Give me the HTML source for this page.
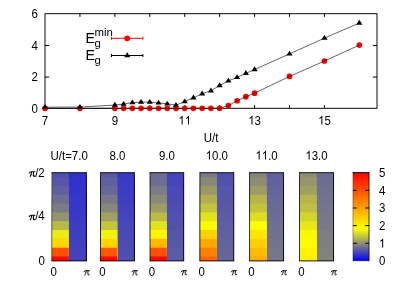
<!DOCTYPE html>
<html><head><meta charset="utf-8"><title>Eg vs U/t</title>
<style>
html,body{margin:0;padding:0;background:#fff;}
body{width:415px;height:291px;overflow:hidden;font-family:"Liberation Sans",sans-serif;}
svg{display:block;will-change:transform;}
</style>
</head><body>
<svg width="415" height="291" viewBox="0 0 415 291">
<rect width="415" height="291" fill="#fff"/>
<g font-family="Liberation Sans, sans-serif" font-size="12.2" fill="#000">
<rect x="45.0" y="13.7" width="332.0" height="94.60" fill="none" stroke="#000" stroke-width="0.95"/>
<path d="M79.93 108.3v-3.2M79.93 13.7v3.2M114.86 108.3v-3.2M114.86 13.7v3.2M149.79 108.3v-3.2M149.79 13.7v3.2M184.72 108.3v-3.2M184.72 13.7v3.2M219.65 108.3v-3.2M219.65 13.7v3.2M254.58 108.3v-3.2M254.58 13.7v3.2M289.51 108.3v-3.2M289.51 13.7v3.2M324.44 108.3v-3.2M324.44 13.7v3.2M45.0 77.07h4.1M377.0 77.07h-4.1M45.0 45.53h4.1M377.0 45.53h-4.1" stroke="#000" stroke-width="1" fill="none"/>
<text transform="translate(37.90 112.60) scale(0.94 1)" text-anchor="end" font-size="12.2">0</text>
<text transform="translate(37.90 80.77) scale(0.94 1)" text-anchor="end" font-size="12.2">2</text>
<text transform="translate(37.90 49.83) scale(0.94 1)" text-anchor="end" font-size="12.2">4</text>
<text transform="translate(37.90 17.70) scale(0.94 1)" text-anchor="end" font-size="12.2">6</text>
<text transform="translate(45.00 124.60) scale(0.94 1)" text-anchor="middle" font-size="12.2">7</text>
<text transform="translate(114.86 124.60) scale(0.94 1)" text-anchor="middle" font-size="12.2">9</text>
<path transform="translate(178.34 124.60) scale(0.005600 -0.005957)" d="M763 0L583 0L583 1147Q518 1085 412.5 1023Q307 961 223 930L223 1104Q374 1175 487 1276Q600 1377 647 1472L763 1472Z" fill="#000"/>
<path transform="translate(184.72 124.60) scale(0.005600 -0.005957)" d="M763 0L583 0L583 1147Q518 1085 412.5 1023Q307 961 223 930L223 1104Q374 1175 487 1276Q600 1377 647 1472L763 1472Z" fill="#000"/>
<path transform="translate(248.20 124.60) scale(0.005600 -0.005957)" d="M763 0L583 0L583 1147Q518 1085 412.5 1023Q307 961 223 930L223 1104Q374 1175 487 1276Q600 1377 647 1472L763 1472Z" fill="#000"/>
<text transform="translate(254.58 124.60) scale(0.94 1)" font-size="12.2">3</text>
<path transform="translate(318.06 124.60) scale(0.005600 -0.005957)" d="M763 0L583 0L583 1147Q518 1085 412.5 1023Q307 961 223 930L223 1104Q374 1175 487 1276Q600 1377 647 1472L763 1472Z" fill="#000"/>
<text transform="translate(324.44 124.60) scale(0.94 1)" font-size="12.2">5</text>
<text transform="translate(211.00 141.80) scale(0.94 1)" text-anchor="middle" font-size="12.2">U/t</text>
<circle cx="45.00" cy="108.30" r="2.85" fill="#f00"/>
<circle cx="79.93" cy="108.30" r="2.85" fill="#f00"/>
<circle cx="114.86" cy="108.30" r="2.85" fill="#f00"/>
<circle cx="123.59" cy="108.30" r="2.85" fill="#f00"/>
<circle cx="132.32" cy="108.30" r="2.85" fill="#f00"/>
<circle cx="141.06" cy="108.30" r="2.85" fill="#f00"/>
<circle cx="149.79" cy="108.30" r="2.85" fill="#f00"/>
<circle cx="158.52" cy="108.30" r="2.85" fill="#f00"/>
<circle cx="167.25" cy="108.30" r="2.85" fill="#f00"/>
<circle cx="175.99" cy="108.30" r="2.85" fill="#f00"/>
<circle cx="184.72" cy="108.30" r="2.85" fill="#f00"/>
<circle cx="193.45" cy="108.30" r="2.85" fill="#f00"/>
<circle cx="202.19" cy="108.30" r="2.85" fill="#f00"/>
<circle cx="210.92" cy="108.30" r="2.85" fill="#f00"/>
<circle cx="219.65" cy="108.30" r="2.85" fill="#f00"/>
<circle cx="228.38" cy="105.62" r="2.85" fill="#f00"/>
<circle cx="237.12" cy="100.73" r="2.85" fill="#f00"/>
<circle cx="245.85" cy="96.71" r="2.85" fill="#f00"/>
<circle cx="254.58" cy="93.16" r="2.85" fill="#f00"/>
<circle cx="289.51" cy="76.45" r="2.85" fill="#f00"/>
<circle cx="324.44" cy="61.00" r="2.85" fill="#f00"/>
<circle cx="359.37" cy="45.08" r="2.85" fill="#f00"/>
<polyline fill="none" stroke="#000" stroke-width="0.6" points="45.00,107.16 79.93,107.09 114.86,105.04 123.59,104.09 132.32,102.59 141.06,102.12 149.79,102.12 158.52,102.91 167.25,103.85 175.99,105.12 184.72,101.60 193.45,97.74 202.19,93.72 210.92,90.80 219.65,85.44 228.38,80.87 237.12,77.40 245.85,73.30 254.58,69.51 289.51,53.90 324.44,38.14 359.37,23.00"/>
<polyline fill="none" stroke="#000" stroke-width="0.6" points="45.00,108.30 79.93,108.30 114.86,108.30 123.59,108.30 132.32,108.30 141.06,108.30 149.79,108.30 158.52,108.30 167.25,108.30 175.99,108.30 184.72,108.30 193.45,108.30 202.19,108.30 210.92,108.30 219.65,108.30 228.38,105.62 237.12,100.73 245.85,96.71 254.58,93.16 289.51,76.45 324.44,61.00 359.37,45.08"/>
<path d="M45.00 103.96L48.10 108.86L41.90 108.86Z" fill="#000"/>
<path d="M79.93 103.89L83.03 108.79L76.83 108.79Z" fill="#000"/>
<path d="M114.86 101.84L117.96 106.74L111.76 106.74Z" fill="#000"/>
<path d="M123.59 100.89L126.69 105.79L120.49 105.79Z" fill="#000"/>
<path d="M132.32 99.39L135.42 104.29L129.22 104.29Z" fill="#000"/>
<path d="M141.06 98.92L144.16 103.82L137.96 103.82Z" fill="#000"/>
<path d="M149.79 98.92L152.89 103.82L146.69 103.82Z" fill="#000"/>
<path d="M158.52 99.71L161.62 104.61L155.42 104.61Z" fill="#000"/>
<path d="M167.25 100.65L170.35 105.55L164.16 105.55Z" fill="#000"/>
<path d="M175.99 101.92L179.09 106.82L172.89 106.82Z" fill="#000"/>
<path d="M184.72 98.40L187.82 103.30L181.62 103.30Z" fill="#000"/>
<path d="M193.45 94.54L196.55 99.44L190.35 99.44Z" fill="#000"/>
<path d="M202.19 90.52L205.28 95.42L199.09 95.42Z" fill="#000"/>
<path d="M210.92 87.60L214.02 92.50L207.82 92.50Z" fill="#000"/>
<path d="M219.65 82.24L222.75 87.14L216.55 87.14Z" fill="#000"/>
<path d="M228.38 77.67L231.48 82.57L225.28 82.57Z" fill="#000"/>
<path d="M237.12 74.20L240.22 79.10L234.02 79.10Z" fill="#000"/>
<path d="M245.85 70.10L248.95 75.00L242.75 75.00Z" fill="#000"/>
<path d="M254.58 66.31L257.68 71.21L251.48 71.21Z" fill="#000"/>
<path d="M289.51 50.70L292.61 55.60L286.41 55.60Z" fill="#000"/>
<path d="M324.44 34.94L327.54 39.84L321.34 39.84Z" fill="#000"/>
<path d="M359.37 19.80L362.47 24.70L356.27 24.70Z" fill="#000"/>
<text transform="translate(85.60 43.00) scale(0.95 1)" text-anchor="start" font-size="15">E</text>
<text transform="translate(94.60 36.00) scale(1 1)" text-anchor="start" font-size="11.4">min</text>
<text transform="translate(94.50 47.00) scale(1 1)" text-anchor="start" font-size="11.4">g</text>
<path d="M111.5 38.3h31.4M111.5 36.8v3M142.9 36.8v3" stroke="#f00" stroke-width="1" fill="none"/>
<circle cx="127.2" cy="38.3" r="2.85" fill="#f00"/>
<text transform="translate(85.60 60.20) scale(0.95 1)" text-anchor="start" font-size="15">E</text>
<text transform="translate(94.50 64.20) scale(1 1)" text-anchor="start" font-size="11.4">g</text>
<path d="M111.5 55.5h31.4M111.5 54v3M142.9 54v3" stroke="#000" stroke-width="1" fill="none"/>
<path d="M127.20 52.30L130.30 57.20L124.10 57.20Z" fill="#000"/>
<rect x="67.80" y="172.70" width="18.60" height="88.20" fill="#3030cf"/>
<rect x="67.80" y="177.11" width="18.60" height="83.79" fill="#3232cd"/>
<rect x="67.80" y="185.93" width="18.60" height="74.97" fill="#3434cb"/>
<rect x="67.80" y="194.75" width="18.60" height="66.15" fill="#3636c9"/>
<rect x="67.80" y="203.57" width="18.60" height="57.33" fill="#3838c8"/>
<rect x="67.80" y="212.39" width="18.60" height="48.51" fill="#3a3ac6"/>
<rect x="67.80" y="221.21" width="18.60" height="39.69" fill="#3c3cc4"/>
<rect x="67.80" y="230.03" width="18.60" height="30.87" fill="#3e3ec2"/>
<rect x="67.80" y="238.85" width="18.60" height="22.05" fill="#4040c0"/>
<rect x="67.80" y="247.67" width="18.60" height="13.23" fill="#4242be"/>
<rect x="67.80" y="256.49" width="18.60" height="4.41" fill="#4444bc"/>
<rect x="51.90" y="172.70" width="16.90" height="88.20" fill="#5050b0"/>
<rect x="51.90" y="177.11" width="16.90" height="83.79" fill="#5656aa"/>
<rect x="51.90" y="185.93" width="16.90" height="74.97" fill="#6060a0"/>
<rect x="51.90" y="194.75" width="16.90" height="66.15" fill="#6e6e92"/>
<rect x="51.90" y="203.57" width="16.90" height="57.33" fill="#7c7c84"/>
<rect x="51.90" y="212.39" width="16.90" height="48.51" fill="#93936d"/>
<rect x="51.90" y="221.21" width="16.90" height="39.69" fill="#b9b946"/>
<rect x="51.90" y="230.03" width="16.90" height="30.87" fill="#ecec13"/>
<rect x="51.90" y="238.85" width="16.90" height="22.05" fill="#ffd800"/>
<rect x="51.90" y="247.67" width="16.90" height="13.23" fill="#ff5000"/>
<rect x="51.90" y="256.49" width="16.90" height="4.41" fill="#ff0700"/>
<path d="M51.90 260.90V172.70" fill="none" stroke="#000" stroke-opacity="0.45" stroke-width="0.9"/>
<path d="M51.45 172.70H86.85M86.40 172.70V260.90M86.85 260.90H51.45" fill="none" stroke="#000" stroke-width="0.9"/>
<text transform="translate(69.15 159.60) scale(0.94 1)" text-anchor="middle" font-size="12.2">U/t=7.0</text>
<text transform="translate(50.60 276.00) scale(0.94 1)" text-anchor="start" font-size="12.2">0</text>
<path transform="translate(83.70 275.40) scale(0.96)" d="M0.35 -3.7Q0.8 -4.95 2.0 -4.95L5.9 -4.95M2.65 -4.7Q2.35 -1.8 1.25 -0.35M4.5 -4.7L4.35 -1.6Q4.3 -0.4 5.1 -0.4Q5.6 -0.45 5.8 -1.0" fill="none" stroke="#000" stroke-width="0.95" stroke-linecap="round" stroke-linejoin="round"/>
<rect x="116.30" y="172.70" width="18.10" height="88.20" fill="#3838c7"/>
<rect x="116.30" y="177.11" width="18.10" height="83.79" fill="#3b3bc5"/>
<rect x="116.30" y="185.93" width="18.10" height="74.97" fill="#3d3dc2"/>
<rect x="116.30" y="194.75" width="18.10" height="66.15" fill="#3f3fc0"/>
<rect x="116.30" y="203.57" width="18.10" height="57.33" fill="#4242be"/>
<rect x="116.30" y="212.39" width="18.10" height="48.51" fill="#4444bb"/>
<rect x="116.30" y="221.21" width="18.10" height="39.69" fill="#4747b9"/>
<rect x="116.30" y="230.03" width="18.10" height="30.87" fill="#4949b7"/>
<rect x="116.30" y="238.85" width="18.10" height="22.05" fill="#4b4bb4"/>
<rect x="116.30" y="247.67" width="18.10" height="13.23" fill="#4e4eb2"/>
<rect x="116.30" y="256.49" width="18.10" height="4.41" fill="#5050b0"/>
<rect x="100.50" y="172.70" width="16.80" height="88.20" fill="#5858a7"/>
<rect x="100.50" y="177.11" width="16.80" height="83.79" fill="#6060a0"/>
<rect x="100.50" y="185.93" width="16.80" height="74.97" fill="#686898"/>
<rect x="100.50" y="194.75" width="16.80" height="66.15" fill="#787888"/>
<rect x="100.50" y="203.57" width="16.80" height="57.33" fill="#888878"/>
<rect x="100.50" y="212.39" width="16.80" height="48.51" fill="#a0a060"/>
<rect x="100.50" y="221.21" width="16.80" height="39.69" fill="#c3c33c"/>
<rect x="100.50" y="230.03" width="16.80" height="30.87" fill="#f2f20d"/>
<rect x="100.50" y="238.85" width="16.80" height="22.05" fill="#ffd400"/>
<rect x="100.50" y="247.67" width="16.80" height="13.23" fill="#ff5800"/>
<rect x="100.50" y="256.49" width="16.80" height="4.41" fill="#ff0700"/>
<path d="M100.50 260.90V172.70" fill="none" stroke="#000" stroke-opacity="0.85" stroke-width="0.9"/>
<path d="M100.05 172.70H134.85M134.40 172.70V260.90M134.85 260.90H100.05" fill="none" stroke="#000" stroke-width="0.9"/>
<text transform="translate(117.45 159.60) scale(0.94 1)" text-anchor="middle" font-size="12.2">8.0</text>
<text transform="translate(99.20 276.00) scale(0.94 1)" text-anchor="start" font-size="12.2">0</text>
<path transform="translate(131.70 275.40) scale(0.96)" d="M0.35 -3.7Q0.8 -4.95 2.0 -4.95L5.9 -4.95M2.65 -4.7Q2.35 -1.8 1.25 -0.35M4.5 -4.7L4.35 -1.6Q4.3 -0.4 5.1 -0.4Q5.6 -0.45 5.8 -1.0" fill="none" stroke="#000" stroke-width="0.95" stroke-linecap="round" stroke-linejoin="round"/>
<rect x="165.90" y="172.70" width="17.80" height="88.20" fill="#4444bc"/>
<rect x="165.90" y="177.11" width="17.80" height="83.79" fill="#4646b9"/>
<rect x="165.90" y="185.93" width="17.80" height="74.97" fill="#4949b7"/>
<rect x="165.90" y="194.75" width="17.80" height="66.15" fill="#4b4bb4"/>
<rect x="165.90" y="203.57" width="17.80" height="57.33" fill="#4e4eb2"/>
<rect x="165.90" y="212.39" width="17.80" height="48.51" fill="#5050b0"/>
<rect x="165.90" y="221.21" width="17.80" height="39.69" fill="#5252ad"/>
<rect x="165.90" y="230.03" width="17.80" height="30.87" fill="#5555ab"/>
<rect x="165.90" y="238.85" width="17.80" height="22.05" fill="#5757a8"/>
<rect x="165.90" y="247.67" width="17.80" height="13.23" fill="#5a5aa6"/>
<rect x="165.90" y="256.49" width="17.80" height="4.41" fill="#5c5ca4"/>
<rect x="150.00" y="172.70" width="16.90" height="88.20" fill="#6c6c94"/>
<rect x="150.00" y="177.11" width="16.90" height="83.79" fill="#6e6e92"/>
<rect x="150.00" y="185.93" width="16.90" height="74.97" fill="#7c7c84"/>
<rect x="150.00" y="194.75" width="16.90" height="66.15" fill="#8a8a76"/>
<rect x="150.00" y="203.57" width="16.90" height="57.33" fill="#9c9c64"/>
<rect x="150.00" y="212.39" width="16.90" height="48.51" fill="#bcbc44"/>
<rect x="150.00" y="221.21" width="16.90" height="39.69" fill="#e3e31c"/>
<rect x="150.00" y="230.03" width="16.90" height="30.87" fill="#fff600"/>
<rect x="150.00" y="238.85" width="16.90" height="22.05" fill="#ffb800"/>
<rect x="150.00" y="247.67" width="16.90" height="13.23" fill="#ff5100"/>
<rect x="150.00" y="256.49" width="16.90" height="4.41" fill="#ff0700"/>
<path d="M150.00 260.90V172.70" fill="none" stroke="#000" stroke-opacity="0.85" stroke-width="0.9"/>
<path d="M149.55 172.70H184.15M183.70 172.70V260.90M184.15 260.90H149.55" fill="none" stroke="#000" stroke-width="0.9"/>
<text transform="translate(166.85 159.60) scale(0.94 1)" text-anchor="middle" font-size="12.2">9.0</text>
<text transform="translate(148.70 276.00) scale(0.94 1)" text-anchor="start" font-size="12.2">0</text>
<path transform="translate(181.00 275.40) scale(0.96)" d="M0.35 -3.7Q0.8 -4.95 2.0 -4.95L5.9 -4.95M2.65 -4.7Q2.35 -1.8 1.25 -0.35M4.5 -4.7L4.35 -1.6Q4.3 -0.4 5.1 -0.4Q5.6 -0.45 5.8 -1.0" fill="none" stroke="#000" stroke-width="0.95" stroke-linecap="round" stroke-linejoin="round"/>
<rect x="215.90" y="172.70" width="17.85" height="88.20" fill="#5050b0"/>
<rect x="215.90" y="177.11" width="17.85" height="83.79" fill="#5252ad"/>
<rect x="215.90" y="185.93" width="17.85" height="74.97" fill="#5555ab"/>
<rect x="215.90" y="194.75" width="17.85" height="66.15" fill="#5757a9"/>
<rect x="215.90" y="203.57" width="17.85" height="57.33" fill="#5959a6"/>
<rect x="215.90" y="212.39" width="17.85" height="48.51" fill="#5c5ca4"/>
<rect x="215.90" y="221.21" width="17.85" height="39.69" fill="#5e5ea2"/>
<rect x="215.90" y="230.03" width="17.85" height="30.87" fill="#61619f"/>
<rect x="215.90" y="238.85" width="17.85" height="22.05" fill="#63639d"/>
<rect x="215.90" y="247.67" width="17.85" height="13.23" fill="#65659a"/>
<rect x="215.90" y="256.49" width="17.85" height="4.41" fill="#686898"/>
<rect x="199.90" y="172.70" width="17.00" height="88.20" fill="#787888"/>
<rect x="199.90" y="177.11" width="17.00" height="83.79" fill="#888878"/>
<rect x="199.90" y="185.93" width="17.00" height="74.97" fill="#999966"/>
<rect x="199.90" y="194.75" width="17.00" height="66.15" fill="#b0b04f"/>
<rect x="199.90" y="203.57" width="17.00" height="57.33" fill="#c3c33c"/>
<rect x="199.90" y="212.39" width="17.00" height="48.51" fill="#e3e31c"/>
<rect x="199.90" y="221.21" width="17.00" height="39.69" fill="#fffb00"/>
<rect x="199.90" y="230.03" width="17.00" height="30.87" fill="#ffd000"/>
<rect x="199.90" y="238.85" width="17.00" height="22.05" fill="#ffaa00"/>
<rect x="199.90" y="247.67" width="17.00" height="13.23" fill="#ff8000"/>
<rect x="199.90" y="256.49" width="17.00" height="4.41" fill="#ff6600"/>
<path d="M199.90 260.90V172.70" fill="none" stroke="#000" stroke-opacity="0.85" stroke-width="0.9"/>
<path d="M199.45 172.70H234.20M233.75 172.70V260.90M234.20 260.90H199.45" fill="none" stroke="#000" stroke-width="0.9"/>
<path transform="translate(205.66 159.60) scale(0.005600 -0.005957)" d="M763 0L583 0L583 1147Q518 1085 412.5 1023Q307 961 223 930L223 1104Q374 1175 487 1276Q600 1377 647 1472L763 1472Z" fill="#000"/>
<text transform="translate(212.04 159.60) scale(0.94 1)" font-size="12.2">0.0</text>
<text transform="translate(198.60 276.00) scale(0.94 1)" text-anchor="start" font-size="12.2">0</text>
<path transform="translate(231.05 275.40) scale(0.96)" d="M0.35 -3.7Q0.8 -4.95 2.0 -4.95L5.9 -4.95M2.65 -4.7Q2.35 -1.8 1.25 -0.35M4.5 -4.7L4.35 -1.6Q4.3 -0.4 5.1 -0.4Q5.6 -0.45 5.8 -1.0" fill="none" stroke="#000" stroke-width="0.95" stroke-linecap="round" stroke-linejoin="round"/>
<rect x="265.70" y="172.70" width="17.85" height="88.20" fill="#6060a0"/>
<rect x="265.70" y="177.11" width="17.85" height="83.79" fill="#62629d"/>
<rect x="265.70" y="185.93" width="17.85" height="74.97" fill="#65659b"/>
<rect x="265.70" y="194.75" width="17.85" height="66.15" fill="#676799"/>
<rect x="265.70" y="203.57" width="17.85" height="57.33" fill="#6a6a96"/>
<rect x="265.70" y="212.39" width="17.85" height="48.51" fill="#6c6c94"/>
<rect x="265.70" y="221.21" width="17.85" height="39.69" fill="#6f6f91"/>
<rect x="265.70" y="230.03" width="17.85" height="30.87" fill="#71718f"/>
<rect x="265.70" y="238.85" width="17.85" height="22.05" fill="#73738c"/>
<rect x="265.70" y="247.67" width="17.85" height="13.23" fill="#76768a"/>
<rect x="265.70" y="256.49" width="17.85" height="4.41" fill="#787888"/>
<rect x="249.55" y="172.70" width="17.15" height="88.20" fill="#84847c"/>
<rect x="249.55" y="177.11" width="17.15" height="83.79" fill="#8d8d73"/>
<rect x="249.55" y="185.93" width="17.15" height="74.97" fill="#9c9c64"/>
<rect x="249.55" y="194.75" width="17.15" height="66.15" fill="#b5b54a"/>
<rect x="249.55" y="203.57" width="17.15" height="57.33" fill="#c3c33c"/>
<rect x="249.55" y="212.39" width="17.15" height="48.51" fill="#dfdf20"/>
<rect x="249.55" y="221.21" width="17.15" height="39.69" fill="#ffff00"/>
<rect x="249.55" y="230.03" width="17.15" height="30.87" fill="#ffe600"/>
<rect x="249.55" y="238.85" width="17.15" height="22.05" fill="#ffd000"/>
<rect x="249.55" y="247.67" width="17.15" height="13.23" fill="#ffbb00"/>
<rect x="249.55" y="256.49" width="17.15" height="4.41" fill="#ffae00"/>
<path d="M249.55 260.90V172.70" fill="none" stroke="#000" stroke-opacity="0.85" stroke-width="0.9"/>
<path d="M249.10 172.70H284.00M283.55 172.70V260.90M284.00 260.90H249.10" fill="none" stroke="#000" stroke-width="0.9"/>
<path transform="translate(255.39 159.60) scale(0.005600 -0.005957)" d="M763 0L583 0L583 1147Q518 1085 412.5 1023Q307 961 223 930L223 1104Q374 1175 487 1276Q600 1377 647 1472L763 1472Z" fill="#000"/>
<path transform="translate(261.77 159.60) scale(0.005600 -0.005957)" d="M763 0L583 0L583 1147Q518 1085 412.5 1023Q307 961 223 930L223 1104Q374 1175 487 1276Q600 1377 647 1472L763 1472Z" fill="#000"/>
<text transform="translate(268.15 159.60) scale(0.94 1)" font-size="12.2">.0</text>
<text transform="translate(248.25 276.00) scale(0.94 1)" text-anchor="start" font-size="12.2">0</text>
<path transform="translate(280.85 275.40) scale(0.96)" d="M0.35 -3.7Q0.8 -4.95 2.0 -4.95L5.9 -4.95M2.65 -4.7Q2.35 -1.8 1.25 -0.35M4.5 -4.7L4.35 -1.6Q4.3 -0.4 5.1 -0.4Q5.6 -0.45 5.8 -1.0" fill="none" stroke="#000" stroke-width="0.95" stroke-linecap="round" stroke-linejoin="round"/>
<rect x="315.70" y="172.70" width="17.85" height="88.20" fill="#6c6c94"/>
<rect x="315.70" y="177.11" width="17.85" height="83.79" fill="#6e6e92"/>
<rect x="315.70" y="185.93" width="17.85" height="74.97" fill="#70708f"/>
<rect x="315.70" y="194.75" width="17.85" height="66.15" fill="#73738d"/>
<rect x="315.70" y="203.57" width="17.85" height="57.33" fill="#75758b"/>
<rect x="315.70" y="212.39" width="17.85" height="48.51" fill="#787888"/>
<rect x="315.70" y="221.21" width="17.85" height="39.69" fill="#7a7a86"/>
<rect x="315.70" y="230.03" width="17.85" height="30.87" fill="#7d7d83"/>
<rect x="315.70" y="238.85" width="17.85" height="22.05" fill="#7f7f81"/>
<rect x="315.70" y="247.67" width="17.85" height="13.23" fill="#81817f"/>
<rect x="315.70" y="256.49" width="17.85" height="4.41" fill="#84847c"/>
<rect x="299.50" y="172.70" width="17.20" height="88.20" fill="#8d8d73"/>
<rect x="299.50" y="177.11" width="17.20" height="83.79" fill="#96966a"/>
<rect x="299.50" y="185.93" width="17.20" height="74.97" fill="#a0a060"/>
<rect x="299.50" y="194.75" width="17.20" height="66.15" fill="#b5b54a"/>
<rect x="299.50" y="203.57" width="17.20" height="57.33" fill="#c0c040"/>
<rect x="299.50" y="212.39" width="17.20" height="48.51" fill="#d4d42c"/>
<rect x="299.50" y="221.21" width="17.20" height="39.69" fill="#e8e817"/>
<rect x="299.50" y="230.03" width="17.20" height="30.87" fill="#f9f906"/>
<rect x="299.50" y="238.85" width="17.20" height="22.05" fill="#fffb00"/>
<rect x="299.50" y="247.67" width="17.20" height="13.23" fill="#fff200"/>
<rect x="299.50" y="256.49" width="17.20" height="4.41" fill="#ffee00"/>
<path d="M299.50 260.90V172.70" fill="none" stroke="#000" stroke-opacity="0.85" stroke-width="0.9"/>
<path d="M299.05 172.70H334.00M333.55 172.70V260.90M334.00 260.90H299.05" fill="none" stroke="#000" stroke-width="0.9"/>
<path transform="translate(305.36 159.60) scale(0.005600 -0.005957)" d="M763 0L583 0L583 1147Q518 1085 412.5 1023Q307 961 223 930L223 1104Q374 1175 487 1276Q600 1377 647 1472L763 1472Z" fill="#000"/>
<text transform="translate(311.74 159.60) scale(0.94 1)" font-size="12.2">3.0</text>
<text transform="translate(298.20 276.00) scale(0.94 1)" text-anchor="start" font-size="12.2">0</text>
<path transform="translate(330.85 275.40) scale(0.96)" d="M0.35 -3.7Q0.8 -4.95 2.0 -4.95L5.9 -4.95M2.65 -4.7Q2.35 -1.8 1.25 -0.35M4.5 -4.7L4.35 -1.6Q4.3 -0.4 5.1 -0.4Q5.6 -0.45 5.8 -1.0" fill="none" stroke="#000" stroke-width="0.95" stroke-linecap="round" stroke-linejoin="round"/>
<path transform="translate(29.00 176.70) scale(1.0)" d="M0.35 -3.7Q0.8 -4.95 2.0 -4.95L5.9 -4.95M2.65 -4.7Q2.35 -1.8 1.25 -0.35M4.5 -4.7L4.35 -1.6Q4.3 -0.4 5.1 -0.4Q5.6 -0.45 5.8 -1.0" fill="none" stroke="#000" stroke-width="1.1" stroke-linecap="round" stroke-linejoin="round"/>
<text transform="translate(44.70 176.90) scale(0.94 1)" text-anchor="end" font-size="12.2">/2</text>
<path transform="translate(29.00 220.20) scale(1.0)" d="M0.35 -3.7Q0.8 -4.95 2.0 -4.95L5.9 -4.95M2.65 -4.7Q2.35 -1.8 1.25 -0.35M4.5 -4.7L4.35 -1.6Q4.3 -0.4 5.1 -0.4Q5.6 -0.45 5.8 -1.0" fill="none" stroke="#000" stroke-width="1.1" stroke-linecap="round" stroke-linejoin="round"/>
<text transform="translate(44.70 220.40) scale(0.94 1)" text-anchor="end" font-size="12.2">/4</text>
<text transform="translate(44.80 264.90) scale(0.94 1)" text-anchor="end" font-size="12.2">0</text>
<defs><linearGradient id="cb" x1="0" y1="1" x2="0" y2="0"><stop offset="0" stop-color="#0000ff"/><stop offset="0.185" stop-color="#848480"/><stop offset="0.365" stop-color="#ffff00"/><stop offset="1" stop-color="#ff0000"/></linearGradient></defs>
<rect x="352.95" y="172.7" width="16.10" height="88.20" fill="url(#cb)"/>
<path d="M352.95 260.90V172.70" fill="none" stroke="#000" stroke-opacity="0.5" stroke-width="0.7"/>
<path d="M352.95 260.90H369.05" fill="none" stroke="#000" stroke-opacity="0.3" stroke-width="0.7"/>
<path d="M352.60 172.70H369.40" fill="none" stroke="#000" stroke-width="1"/>
<path d="M369.05 172.70V261.25" fill="none" stroke="#000" stroke-width="0.75"/>
<path d="M352.95 243.26h3.9M369.05 243.26h-3.9M352.95 225.62h3.9M369.05 225.62h-3.9M352.95 207.98h3.9M369.05 207.98h-3.9M352.95 190.34h3.9M369.05 190.34h-3.9" stroke="#000" stroke-width="1" fill="none"/>
<text transform="translate(378.90 265.10) scale(0.94 1)" text-anchor="start" font-size="12.2">0</text>
<path transform="translate(378.90 247.46) scale(0.005600 -0.005957)" d="M763 0L583 0L583 1147Q518 1085 412.5 1023Q307 961 223 930L223 1104Q374 1175 487 1276Q600 1377 647 1472L763 1472Z" fill="#000"/>
<text transform="translate(378.90 229.82) scale(0.94 1)" text-anchor="start" font-size="12.2">2</text>
<text transform="translate(378.90 212.18) scale(0.94 1)" text-anchor="start" font-size="12.2">3</text>
<text transform="translate(378.90 194.54) scale(0.94 1)" text-anchor="start" font-size="12.2">4</text>
<text transform="translate(378.90 176.90) scale(0.94 1)" text-anchor="start" font-size="12.2">5</text>
</g></svg>
</body></html>
